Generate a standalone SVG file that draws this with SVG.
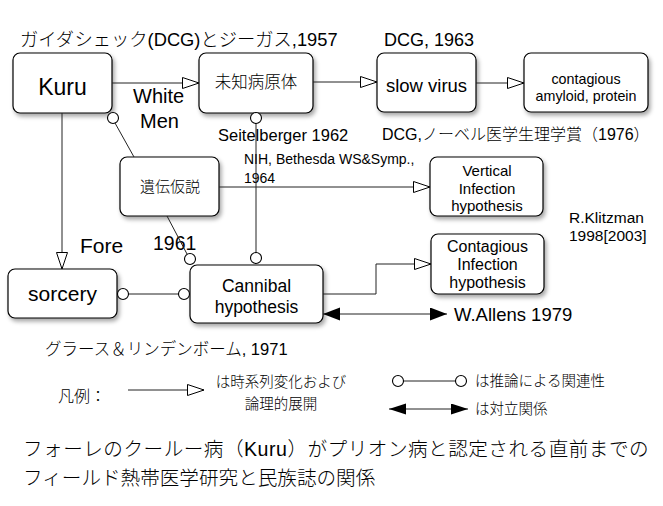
<svg xmlns="http://www.w3.org/2000/svg" width="663" height="506" viewBox="0 0 663 506">
<defs>
<filter id="sh" x="-20%" y="-20%" width="150%" height="160%">
<feDropShadow dx="2" dy="3" stdDeviation="2" flood-color="#000" flood-opacity="0.35"/>
</filter>
<marker id="hollow" markerUnits="userSpaceOnUse" markerWidth="20" markerHeight="14" refX="17" refY="6" orient="auto">
<path d="M0.5,0.5 L17,6 L0.5,11.5 Z" fill="#fff" stroke="#000" stroke-width="1"/>
</marker>
<marker id="filled" markerUnits="userSpaceOnUse" markerWidth="20" markerHeight="14" refX="17" refY="6.5" orient="auto-start-reverse">
<path d="M0,0 L17,6.5 L0,13 Z" fill="#000"/>
</marker>
<marker id="filledS" markerUnits="userSpaceOnUse" markerWidth="20" markerHeight="14" refX="17" refY="5.5" orient="auto-start-reverse">
<path d="M0,0 L17,5.5 L0,11 Z" fill="#000"/>
</marker>
</defs>
<style>
.box{fill:#fff;stroke:#000;stroke-width:1.2;filter:url(#sh)}
.t{font-family:"Liberation Sans","Noto Sans CJK JP",sans-serif;fill:#000}
.j{font-weight:300}
.c{text-anchor:middle}
.ln{fill:none;stroke:#222;stroke-width:1}
.ci{fill:#fff;stroke:#000;stroke-width:1.1}
</style>
<rect width="663" height="506" fill="#fff"/>

<g id="labels">
<text class="t j" x="20" y="46" font-size="18.3">ガイダシェック(DCG)とジーガス,1957</text>
<text class="t" x="384" y="46" font-size="18">DCG, 1963</text>
<text class="t j" x="382" y="140" font-size="16">DCG,ノーベル医学生理学賞（1976）</text>
<text class="t" x="133" y="103" font-size="20">White</text>
<text class="t" x="140" y="128" font-size="20">Men</text>
<text class="t" x="218" y="141" font-size="16.5">Seitelberger 1962</text>
<text class="t" x="244" y="164" font-size="14">NIH, Bethesda WS&amp;Symp.,</text>
<text class="t" x="244" y="183" font-size="14">1964</text>
<text class="t" x="569" y="223" font-size="15.5">R.Klitzman</text>
<text class="t" x="569" y="241" font-size="15.5">1998[2003]</text>
<text class="t" x="80" y="253" font-size="21">Fore</text>
<text class="t" x="153" y="250" font-size="19.5">1961</text>
<text class="t" x="454" y="321" font-size="18.5">W.Allens 1979</text>
<text class="t j" x="45" y="355" font-size="16.5">グラース＆リンデンボーム, 1971</text>
</g>

<g id="kuru">
<rect class="box" x="13" y="53" width="99" height="60" rx="7"/>
<text class="t c" x="62.5" y="95" font-size="23">Kuru</text>
</g>
<g id="pathogen">
<rect class="box" x="199" y="53" width="114" height="60" rx="7"/>
<text class="t j c" x="256" y="88" font-size="16.5">未知病原体</text>
</g>
<g id="slowvirus">
<rect class="box" x="377" y="53" width="99" height="59" rx="7"/>
<text class="t c" x="426.5" y="92" font-size="18.5">slow virus</text>
</g>
<g id="amyloid">
<rect class="box" x="524" y="53" width="124" height="59" rx="7"/>
<text class="t c" x="586" y="84" font-size="14.3">contagious</text>
<text class="t c" x="586" y="101" font-size="14.3">amyloid, protein</text>
</g>
<g id="genetic">
<rect class="box" x="120" y="157" width="99" height="59" rx="7"/>
<text class="t j c" x="170" y="192" font-size="15">遺伝仮説</text>
</g>
<g id="vertical">
<rect class="box" x="430" y="157" width="113" height="59" rx="7"/>
<text class="t c" x="487" y="176" font-size="15">Vertical</text>
<text class="t c" x="487" y="194" font-size="15">Infection</text>
<text class="t c" x="487" y="211" font-size="15">hypothesis</text>
</g>
<g id="contagious">
<rect class="box" x="431" y="234" width="113" height="60" rx="7"/>
<text class="t c" x="487.5" y="252" font-size="16">Contagious</text>
<text class="t c" x="487.5" y="270" font-size="16">Infection</text>
<text class="t c" x="487.5" y="288" font-size="16">hypothesis</text>
</g>
<g id="sorcery">
<rect class="box" x="8" y="269" width="109" height="49" rx="7"/>
<text class="t c" x="62.5" y="301" font-size="21">sorcery</text>
</g>
<g id="cannibal">
<rect class="box" x="190" y="265" width="133" height="58" rx="7"/>
<text class="t c" x="256.5" y="292" font-size="17.5">Cannibal</text>
<text class="t c" x="256.5" y="313" font-size="17.5">hypothesis</text>
</g>

<g id="connectors">
<line class="ln" x1="112" y1="83" x2="199" y2="83" marker-end="url(#hollow)"/>
<line class="ln" x1="313" y1="82" x2="377" y2="82" marker-end="url(#hollow)"/>
<line class="ln" x1="476" y1="83" x2="524" y2="83" marker-end="url(#hollow)"/>
<line class="ln" x1="62" y1="113" x2="62" y2="269" marker-end="url(#hollow)"/>
<line class="ln" x1="219" y1="187" x2="430" y2="187" marker-end="url(#hollow)"/>
<polyline class="ln" points="323,294 376,294 376,264 431,264" marker-end="url(#hollow)"/>
<line class="ln" x1="115" y1="123" x2="134" y2="157"/>
<line class="ln" x1="256" y1="123" x2="256" y2="253"/>
<line class="ln" x1="167" y1="216" x2="187" y2="254"/>
<line class="ln" x1="128" y1="294" x2="179" y2="294"/>
<line class="ln" x1="323" y1="314" x2="447" y2="314" marker-start="url(#filled)" marker-end="url(#filled)"/>
<circle class="ci" cx="113" cy="118" r="5.5"/>
<circle class="ci" cx="256" cy="118" r="5.5"/>
<circle class="ci" cx="256" cy="258" r="5.5"/>
<circle class="ci" cx="190" cy="259" r="5.5"/>
<circle class="ci" cx="123" cy="294" r="5.5"/>
<circle class="ci" cx="184" cy="294" r="5.5"/>
</g>

<g id="legend">
<text class="t j" x="58" y="402" font-size="16">凡例：</text>
<line class="ln" x1="128" y1="390" x2="204" y2="390" marker-end="url(#hollow)"/>
<text class="t j c" x="281" y="387" font-size="14.5">は時系列変化および</text>
<text class="t j c" x="281" y="409" font-size="14.5">論理的展開</text>
<line class="ln" x1="403" y1="381" x2="456" y2="381"/>
<circle class="ci" cx="398" cy="381" r="5.5"/>
<circle class="ci" cx="461" cy="381" r="5.5"/>
<text class="t j" x="475" y="386" font-size="14.5">は推論による関連性</text>
<line class="ln" x1="389" y1="409" x2="468" y2="409" marker-start="url(#filledS)" marker-end="url(#filledS)"/>
<text class="t j" x="475" y="414" font-size="14.5">は対立関係</text>
</g>

<g id="title">
<text class="t j" x="23" y="456" font-size="19.6" letter-spacing="0.5">フォーレのクールー病（Kuru）がプリオン病と認定される直前までの</text>
<text class="t j" x="23" y="485" font-size="19.6">フィールド熱帯医学研究と民族誌の関係</text>
</g>
</svg>
